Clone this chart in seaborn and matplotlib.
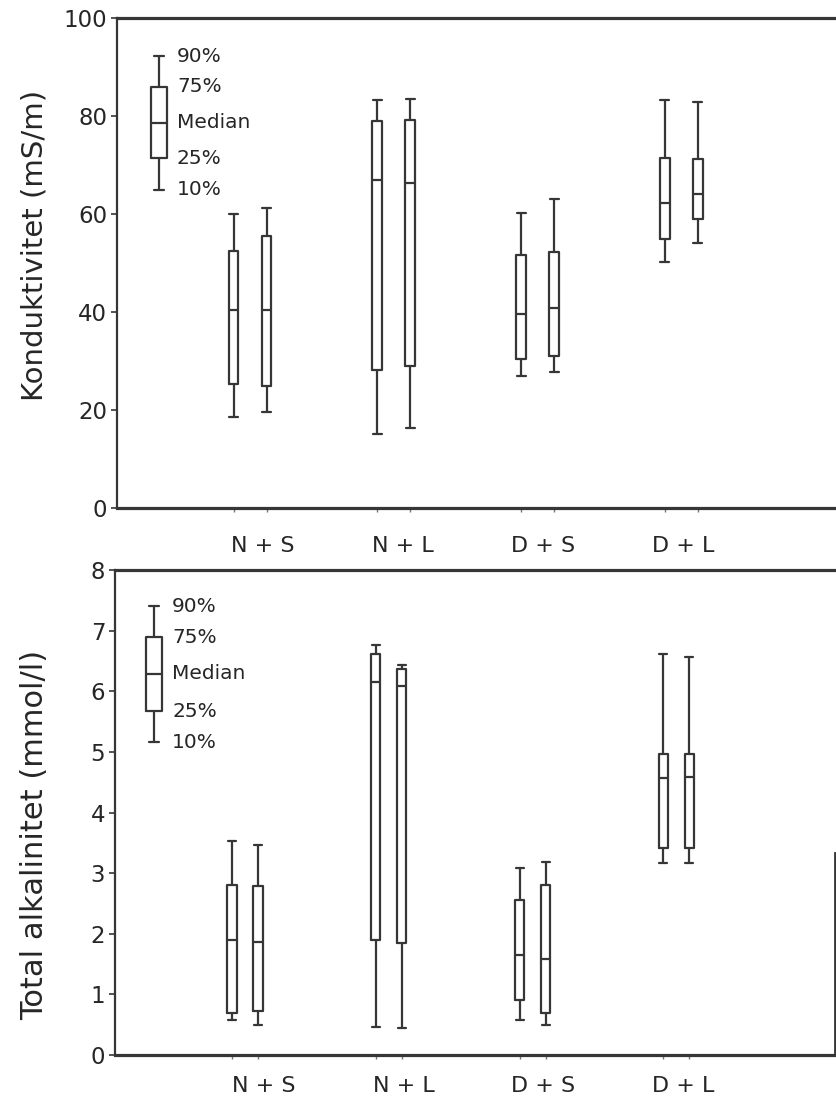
import numpy as np
import pandas as pd
import matplotlib
matplotlib.use("Agg")
import matplotlib.pyplot as plt
import seaborn as sns

# Groups along the x axis and the two series drawn side by side in each group
groups = ["N+S", "N+L", "D+S", "D+L"]
series = ["I", "II"]

# Percentiles per box: 10 %, 25 %, median, 75 %, 90 %
kond_I = [[18.6, 25.4, 40.4, 52.4, 60.0],
          [15.2, 28.2, 66.9, 79.0, 83.2],
          [27.0, 30.5, 39.6, 51.6, 60.3],
          [50.3, 55.0, 62.2, 71.4, 83.2]]
kond_II = [[19.6, 24.8, 40.4, 55.6, 61.2],
           [16.3, 29.0, 66.3, 79.2, 83.5],
           [27.8, 31.1, 40.8, 52.3, 63.1],
           [54.0, 58.9, 64.1, 71.2, 82.8]]

alk_I = [[0.58, 0.70, 1.89, 2.81, 3.53],
         [0.47, 1.89, 6.16, 6.62, 6.76],
         [0.57, 0.91, 1.65, 2.56, 3.08],
         [3.17, 3.42, 4.57, 4.97, 6.62]]
alk_II = [[0.50, 0.73, 1.87, 2.78, 3.47],
          [0.45, 1.85, 6.08, 6.36, 6.44],
          [0.49, 0.70, 1.59, 2.80, 3.18],
          [3.17, 3.41, 4.59, 4.97, 6.57]]

# Explanatory key box in the upper left corner of each panel
key_labels = ["10%", "25%", "Median", "75%", "90%"]
kond_key = [65.0, 71.4, 78.6, 86.0, 92.2]
alk_key = [5.16, 5.67, 6.29, 6.89, 7.40]

kond_ticks = [0, 20, 40, 60, 80, 100]
alk_ticks = [0, 1, 2, 3, 4, 5, 6, 7, 8]

INK = "#363636"
TEXT = "#262626"

sns.set_theme(style="white")
plt.rcParams["font.family"] = ["DejaVu Sans"]


def long_table(first, second):
    rows = []
    for name, table in zip(series, [first, second]):
        for grp, stats in zip(groups, table):
            for v in stats:
                rows.append({"group": grp, "series": name, "value": v})
    return pd.DataFrame(rows)


W, H = 837, 1110
fig = plt.figure(figsize=(W / 100, H / 100), dpi=100)
fig.patch.set_facecolor("white")


def fx(px):
    return px / W


def fy(px):
    return 1 - px / H


def panel(left_px, right_px, top_px, bottom_px, first, second, ymax, yticks,
          ylabel, label_size, label_y_px, width, gap, capw, xlim,
          lab_start, lab_step, lab_pad, key_vals, key_cx_px):
    ax = fig.add_axes([fx(left_px), fy(bottom_px),
                       (right_px - left_px) / W, (bottom_px - top_px) / H])
    df = long_table(first, second)
    sns.boxplot(data=df, x="group", y="value", hue="series",
                order=groups, hue_order=series, whis=(0, 100),
                width=width, gap=gap, fill=False, palette=[INK, INK],
                linewidth=1.6, showfliers=False, legend=False,
                capwidths=capw, ax=ax)
    ax.set_xlim(*xlim)
    ax.set_ylim(0, ymax)
    ax.set_yticks(yticks)
    ax.set_yticklabels([str(t) for t in yticks], fontsize=16.5, color=TEXT)
    ax.tick_params(axis="y", length=4, width=1.2, color=INK, pad=3, left=True)

    lab_pos = [lab_start + i * lab_step for i in range(len(groups))]
    ax.set_xticks(lab_pos)
    ax.set_xticklabels([g.replace("+", " + ") for g in groups],
                       fontsize=16, color=TEXT)
    ax.tick_params(axis="x", length=0, pad=lab_pad)
    off = width / 4
    ax.set_xticks([i + s * off for i in range(len(groups)) for s in (-1, 1)],
                  minor=True)
    ax.tick_params(axis="x", which="minor", length=3, width=1, color="#777777",
                   bottom=True)
    ax.set_xlabel("")
    ax.set_ylabel("")

    for side in ["top", "bottom"]:
        ax.spines[side].set_linewidth(2.3)
        ax.spines[side].set_color(INK)
    ax.spines["left"].set_linewidth(1.6)
    ax.spines["left"].set_color(INK)
    ax.spines["right"].set_visible(False)
    ax.grid(False)

    fig.text(fx(35), fy(label_y_px), ylabel, rotation=90, ha="center",
             va="center", fontsize=label_size, color=TEXT)

    # key box drawn on a narrow overlay sharing the panel's value scale
    kax = fig.add_axes([fx(key_cx_px - 20), fy(bottom_px), 40 / W,
                        (bottom_px - top_px) / H])
    sns.boxplot(y=key_vals, ax=kax, width=0.4, fill=False, color=INK,
                linewidth=1.6, whis=(0, 100), showfliers=False,
                capwidths=0.25)
    kax.set_xlim(-0.5, 0.5)
    kax.set_ylim(0, ymax)
    kax.axis("off")
    for lab, v in zip(key_labels, key_vals):
        kax.text(0.45, v, lab, ha="left", va="center", fontsize=14.5,
                 color=TEXT, clip_on=False)
    return ax


top = panel(117, 835, 18, 508, kond_I, kond_II, 100, kond_ticks,
            "Konduktivitet (mS/m)", 21, 245,
            width=0.459, gap=0.70, capw=0.063, xlim=(-0.925, 4.068),
            lab_start=0.09, lab_step=0.975, lab_pad=20,
            key_vals=kond_key, key_cx_px=159)

bottom = panel(115, 835, 570, 1055, alk_I, alk_II, 8, alk_ticks,
               "Total alkalinitet (mmol/l)", 22, 835,
               width=0.362, gap=0.65, capw=0.056, xlim=(-0.904, 4.103),
               lab_start=0.13, lab_step=0.973, lab_pad=15,
               key_vals=alk_key, key_cx_px=154)
bottom.spines["right"].set_visible(True)
bottom.spines["right"].set_linewidth(2.0)
bottom.spines["right"].set_color(INK)
bottom.spines["right"].set_bounds(0, 3.33)

fig.savefig("out.png", dpi=100, facecolor="white")
